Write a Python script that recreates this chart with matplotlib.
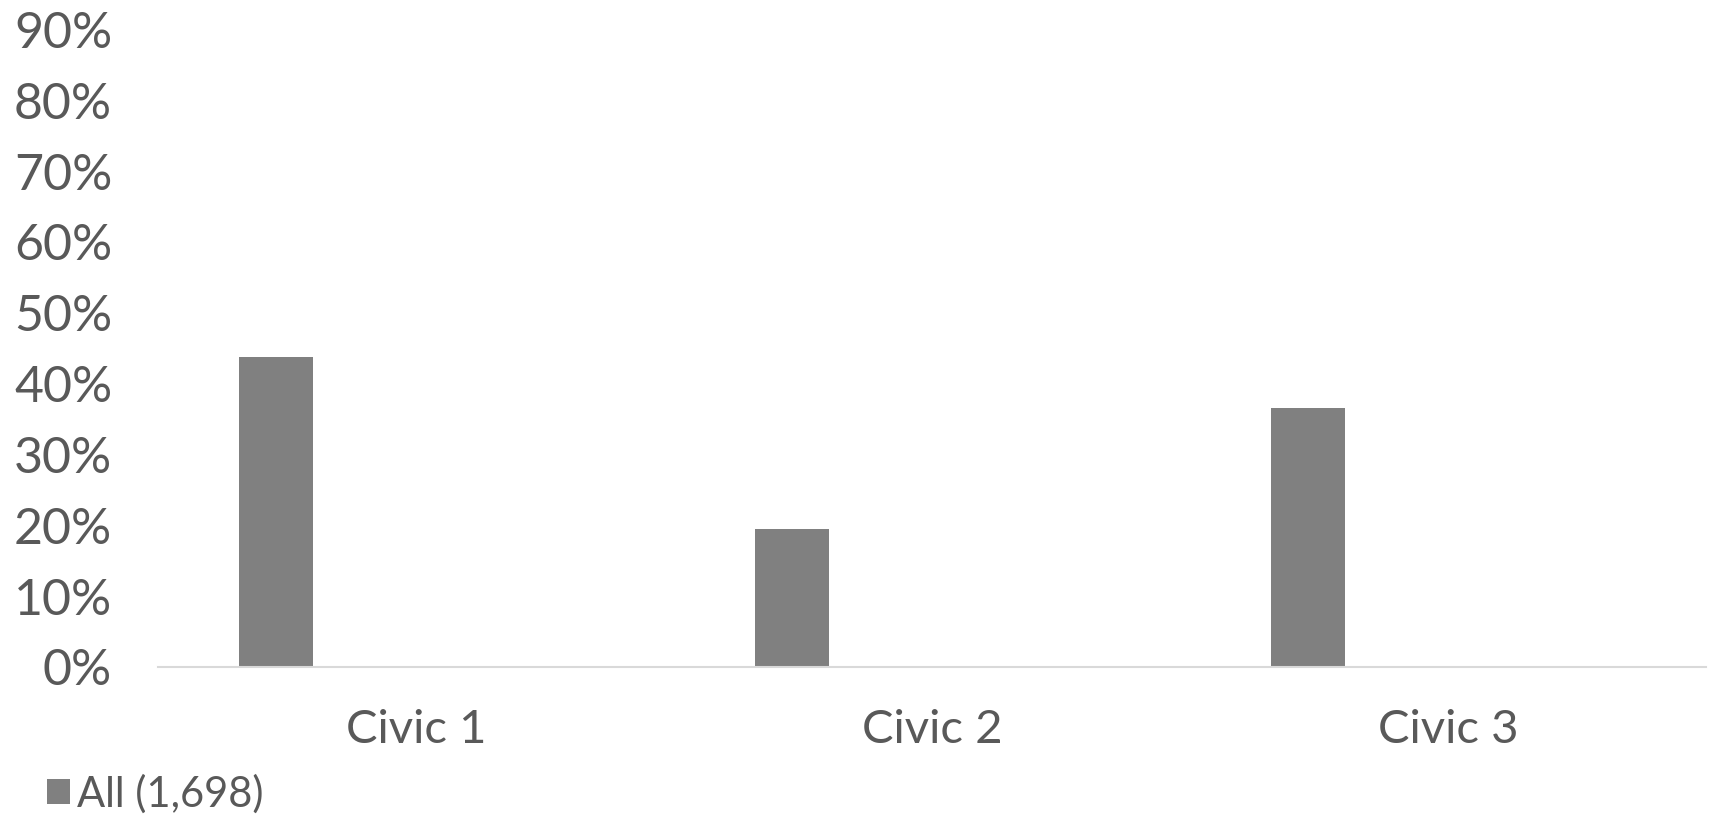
import numpy as np
import matplotlib.pyplot as plt
from matplotlib.ticker import PercentFormatter

plt.rcParams['font.family'] = ['Lato', 'DejaVu Sans']

categories = ["Civic 1", "Civic 2", "Civic 3"]
share_all = [0.438, 0.195, 0.365]
series_label = "All (1,698)"

text_col = "#595959"
bar_col = "#808080"

fig = plt.figure(figsize=(17.09, 8.17), dpi=100)
ax = fig.add_axes([0.0925, 0.1836, 0.906, 0.7804])

x = np.arange(len(categories))
# bar sits in the first slot of the category group
ax.bar(x - 0.272, share_all, width=0.144, color=bar_col, label=series_label)

ax.set_xlim(-0.5, 2.5)
ax.set_ylim(0, 0.9)
ax.set_yticks(np.arange(0, 0.91, 0.1))
ax.yaxis.set_major_formatter(PercentFormatter(1.0, decimals=0))
ax.set_xticks(x)
ax.set_xticklabels(categories)

for side in ["top", "right", "left"]:
    ax.spines[side].set_visible(False)
ax.spines["bottom"].set_color("#d9d9d9")
ax.spines["bottom"].set_linewidth(1.5)

ax.tick_params(axis="y", length=0, pad=33, labelsize=36, labelcolor=text_col)
ax.tick_params(axis="x", length=0, pad=30, labelsize=34, labelcolor=text_col)

fig.legend(loc="lower left", bbox_to_anchor=(0.018, -0.016), frameon=False,
           fontsize=30, labelcolor=text_col, handlelength=0.55, handleheight=0.55,
           handletextpad=0.15, borderaxespad=0)

fig.savefig("out.png", dpi=100)
